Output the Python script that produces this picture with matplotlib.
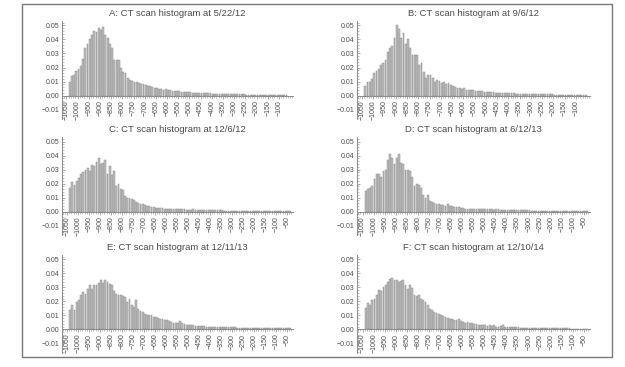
import numpy as np
import matplotlib
matplotlib.use("Agg")
import matplotlib.pyplot as plt
from matplotlib.patches import Rectangle
from matplotlib.ticker import MultipleLocator, FixedLocator

plt.rcParams['font.family'] = ['Liberation Sans', 'DejaVu Sans']

# histogram bins: 10 HU wide, first bin starts at -1040 HU
BIN_START = -1040
BIN_WIDTH = 10

titles = [
    "A: CT scan histogram at 5/22/12",
    "B: CT scan histogram at 9/6/12",
    "C: CT scan histogram at 12/6/12",
    "D: CT scan histogram at 6/12/13",
    "E: CT scan histogram at 12/11/13",
    "F: CT scan histogram at 12/10/14",
]

# relative frequencies, one value per bin
freq_a = [
    0.0100, 0.0136, 0.0150, 0.0176, 0.0190, 0.0214, 0.0260, 0.0340, 0.0370, 0.0400,
    0.0430, 0.0460, 0.0450, 0.0480, 0.0470, 0.0486, 0.0430, 0.0410, 0.0370, 0.0340,
    0.0255, 0.0255, 0.0250, 0.0200, 0.0167, 0.0160, 0.0124, 0.0110, 0.0105, 0.0100,
    0.0095, 0.0090, 0.0085, 0.0080, 0.0075, 0.0070, 0.0065, 0.0060, 0.0056, 0.0053,
    0.0050, 0.0047, 0.0042, 0.0045, 0.0040, 0.0036, 0.0033, 0.0031, 0.0030, 0.0029,
    0.0027, 0.0025, 0.0024, 0.0023, 0.0022, 0.0021, 0.0020, 0.0019, 0.0018, 0.0018,
    0.0017, 0.0016, 0.0015, 0.0015, 0.0014, 0.0013, 0.0013, 0.0012, 0.0012, 0.0011,
    0.0011, 0.0010, 0.0012, 0.0010, 0.0009, 0.0009, 0.0008, 0.0008, 0.0008, 0.0007,
    0.0007, 0.0007, 0.0006, 0.0006, 0.0006, 0.0005, 0.0005, 0.0005, 0.0005, 0.0004,
    0.0004, 0.0004, 0.0004, 0.0003, 0.0003, 0.0003, 0.0003, 0.0003,
]
freq_b = [
    0.0071, 0.0100, 0.0095, 0.0120, 0.0160, 0.0176, 0.0190, 0.0220, 0.0230, 0.0255,
    0.0310, 0.0340, 0.0350, 0.0410, 0.0500, 0.0476, 0.0414, 0.0445, 0.0367, 0.0400,
    0.0340, 0.0290, 0.0290, 0.0290, 0.0220, 0.0230, 0.0170, 0.0124, 0.0150, 0.0150,
    0.0124, 0.0100, 0.0110, 0.0105, 0.0088, 0.0095, 0.0080, 0.0088, 0.0076, 0.0070,
    0.0064, 0.0057, 0.0052, 0.0048, 0.0052, 0.0040, 0.0042, 0.0038, 0.0036, 0.0034,
    0.0032, 0.0030, 0.0029, 0.0027, 0.0026, 0.0025, 0.0024, 0.0022, 0.0021, 0.0020,
    0.0019, 0.0019, 0.0018, 0.0017, 0.0016, 0.0016, 0.0015, 0.0014, 0.0014, 0.0013,
    0.0013, 0.0012, 0.0012, 0.0011, 0.0011, 0.0010, 0.0010, 0.0010, 0.0009, 0.0009,
    0.0009, 0.0008, 0.0008, 0.0008, 0.0007, 0.0007, 0.0007, 0.0006, 0.0006, 0.0006,
    0.0006, 0.0005, 0.0005, 0.0005, 0.0005, 0.0004, 0.0004, 0.0004, 0.0004,
]
freq_c = [
    0.0170, 0.0210, 0.0190, 0.0220, 0.0240, 0.0270, 0.0280, 0.0295, 0.0310, 0.0290,
    0.0333, 0.0326, 0.0355, 0.0380, 0.0340, 0.0350, 0.0370, 0.0270, 0.0326, 0.0262,
    0.0290, 0.0183, 0.0195, 0.0160, 0.0152, 0.0112, 0.0100, 0.0095, 0.0088, 0.0081,
    0.0071, 0.0064, 0.0057, 0.0052, 0.0048, 0.0042, 0.0040, 0.0035, 0.0031, 0.0028,
    0.0026, 0.0024, 0.0022, 0.0021, 0.0020, 0.0019, 0.0018, 0.0018, 0.0017, 0.0016,
    0.0016, 0.0015, 0.0015, 0.0014, 0.0014, 0.0013, 0.0015, 0.0013, 0.0012, 0.0012,
    0.0011, 0.0011, 0.0010, 0.0010, 0.0009, 0.0009, 0.0009, 0.0008, 0.0008, 0.0008,
    0.0007, 0.0007, 0.0007, 0.0007, 0.0006, 0.0006, 0.0006, 0.0006, 0.0007, 0.0006,
    0.0005, 0.0005, 0.0005, 0.0005, 0.0005, 0.0004, 0.0004, 0.0004, 0.0004, 0.0004,
    0.0004, 0.0003, 0.0003, 0.0003, 0.0003, 0.0003, 0.0003, 0.0003, 0.0003, 0.0003,
    0.0003,
]
freq_d = [
    0.0143, 0.0160, 0.0171, 0.0183, 0.0230, 0.0267, 0.0270, 0.0243, 0.0290, 0.0300,
    0.0367, 0.0410, 0.0380, 0.0338, 0.0380, 0.0414, 0.0350, 0.0338, 0.0300, 0.0300,
    0.0290, 0.0243, 0.0183, 0.0195, 0.0190, 0.0171, 0.0119, 0.0100, 0.0119, 0.0076,
    0.0071, 0.0064, 0.0057, 0.0057, 0.0048, 0.0048, 0.0040, 0.0052, 0.0040, 0.0038,
    0.0033, 0.0033, 0.0029, 0.0024, 0.0024, 0.0021, 0.0021, 0.0020, 0.0020, 0.0019,
    0.0019, 0.0018, 0.0018, 0.0017, 0.0016, 0.0016, 0.0015, 0.0015, 0.0014, 0.0016,
    0.0015, 0.0014, 0.0013, 0.0012, 0.0012, 0.0011, 0.0010, 0.0010, 0.0009, 0.0009,
    0.0009, 0.0008, 0.0008, 0.0008, 0.0009, 0.0007, 0.0007, 0.0007, 0.0006, 0.0006,
    0.0006, 0.0006, 0.0005, 0.0005, 0.0005, 0.0005, 0.0005, 0.0004, 0.0004, 0.0004,
    0.0004, 0.0004, 0.0004, 0.0003, 0.0003, 0.0003, 0.0003, 0.0003, 0.0003, 0.0003,
    0.0003,
]
freq_e = [
    0.0140, 0.0171, 0.0136, 0.0195, 0.0207, 0.0243, 0.0267, 0.0255, 0.0290, 0.0314,
    0.0290, 0.0314, 0.0319, 0.0333, 0.0355, 0.0333, 0.0350, 0.0338, 0.0326, 0.0319,
    0.0271, 0.0255, 0.0243, 0.0243, 0.0238, 0.0230, 0.0195, 0.0219, 0.0171, 0.0160,
    0.0207, 0.0148, 0.0129, 0.0124, 0.0112, 0.0100, 0.0105, 0.0100, 0.0088, 0.0088,
    0.0081, 0.0076, 0.0071, 0.0069, 0.0064, 0.0057, 0.0052, 0.0048, 0.0043, 0.0048,
    0.0057, 0.0043, 0.0038, 0.0033, 0.0029, 0.0033, 0.0029, 0.0026, 0.0024, 0.0024,
    0.0021, 0.0021, 0.0020, 0.0019, 0.0019, 0.0018, 0.0017, 0.0017, 0.0016, 0.0016,
    0.0015, 0.0015, 0.0014, 0.0014, 0.0013, 0.0013, 0.0012, 0.0012, 0.0011, 0.0011,
    0.0010, 0.0010, 0.0010, 0.0009, 0.0009, 0.0009, 0.0008, 0.0008, 0.0008, 0.0008,
    0.0007, 0.0007, 0.0007, 0.0007, 0.0007, 0.0006, 0.0006, 0.0006, 0.0006, 0.0006,
    0.0006,
]
freq_f = [
    0.0152, 0.0190, 0.0176, 0.0207, 0.0219, 0.0243, 0.0279, 0.0271, 0.0302, 0.0314,
    0.0338, 0.0357, 0.0369, 0.0350, 0.0350, 0.0338, 0.0343, 0.0350, 0.0314, 0.0290,
    0.0314, 0.0295, 0.0243, 0.0238, 0.0248, 0.0219, 0.0207, 0.0195, 0.0171, 0.0143,
    0.0136, 0.0124, 0.0117, 0.0112, 0.0100, 0.0095, 0.0088, 0.0081, 0.0076, 0.0071,
    0.0069, 0.0064, 0.0076, 0.0062, 0.0052, 0.0048, 0.0052, 0.0048, 0.0043, 0.0038,
    0.0038, 0.0033, 0.0029, 0.0029, 0.0033, 0.0024, 0.0029, 0.0024, 0.0029, 0.0019,
    0.0017, 0.0024, 0.0029, 0.0017, 0.0016, 0.0015, 0.0015, 0.0014, 0.0013, 0.0013,
    0.0012, 0.0012, 0.0011, 0.0011, 0.0010, 0.0010, 0.0010, 0.0009, 0.0009, 0.0009,
    0.0008, 0.0008, 0.0008, 0.0008, 0.0007, 0.0007, 0.0007, 0.0007, 0.0006, 0.0006,
    0.0006, 0.0006, 0.0006, 0.0005, 0.0005, 0.0005, 0.0005, 0.0005, 0.0005, 0.0005,
    0.0005,
]
all_freqs = [freq_a, freq_b, freq_c, freq_d, freq_e, freq_f]

# last labelled tick for each panel
last_tick = [-100, -100, -50, -50, -50, -50]
x_limits = [(-1070, -37), (-1070, -37), (-1073, -23), (-1073, -23), (-1073, -23), (-1073, -23)]
y_ticks = [-0.01, 0.0, 0.01, 0.02, 0.03, 0.04, 0.05]

TEXT = '#4a4a4a'
AXIS = '#8a8a8a'

W, H = 625, 367
fig = plt.figure(figsize=(W / 100, H / 100), dpi=100)

# outer frame around the whole figure
fig.patches.append(Rectangle((22 / W, 1 - 357 / H), 590 / W, 353 / H,
                             transform=fig.transFigure, fill=False,
                             edgecolor='#7a7a7a', linewidth=1.0))

col_left = [62, 357.5]
col_width = [231, 232.5]
row_zero = [95.5, 211.5, 329.3]
px_per_unit = 1400.0   # pixels per 1.0 of frequency
y_lo, y_hi = -0.017, 0.053

for i, freqs in enumerate(all_freqs):
    r, c = divmod(i, 2)
    top_px = row_zero[r] - y_hi * px_per_unit
    h_px = (y_hi - y_lo) * px_per_unit
    ax = fig.add_axes([col_left[c] / W, 1 - (top_px + h_px) / H, col_width[c] / W, h_px / H])

    edges = BIN_START + BIN_WIDTH * np.arange(len(freqs))
    ax.bar(edges, freqs, width=BIN_WIDTH * 0.82, align='edge',
           color='#bdbdbd', edgecolor='#8c8c8c', linewidth=0.35)

    ax.set_xlim(*x_limits[i])
    ax.set_ylim(y_lo, y_hi)

    for s in ['top', 'right']:
        ax.spines[s].set_visible(False)
    ax.spines['bottom'].set_position(('data', 0))
    for s in ['left', 'bottom']:
        ax.spines[s].set_color(AXIS)
        ax.spines[s].set_linewidth(0.7)

    xt = list(range(-1050, last_tick[i] + 1, 50))
    ax.xaxis.set_major_locator(FixedLocator(xt))
    ax.set_xticklabels(['\u2212' + str(abs(v)) for v in xt], rotation=90)
    ax.xaxis.set_minor_locator(MultipleLocator(10))
    ax.set_yticks(y_ticks)
    ax.set_yticklabels(['\u2212%.2f' % abs(v) if v < 0 else '%.2f' % v for v in y_ticks])
    ax.yaxis.set_minor_locator(MultipleLocator(0.002))

    ax.tick_params(axis='x', which='major', direction='out', length=2.4, width=0.5,
                   color=AXIS, labelsize=5, labelcolor=TEXT, pad=0.8)
    ax.tick_params(axis='x', which='minor', direction='out', length=1.6, width=0.4, color=AXIS)
    ax.tick_params(axis='y', which='major', direction='in', length=2.4, width=0.5,
                   color=AXIS, labelsize=5, labelcolor=TEXT, pad=2)
    ax.tick_params(axis='y', which='minor', direction='in', length=1.4, width=0.4, color=AXIS)

    ax.set_title(titles[i], fontsize=6.8, color=TEXT, pad=3.5)
    ax.patch.set_alpha(0)

fig.savefig("out.png", dpi=100, facecolor='white')
